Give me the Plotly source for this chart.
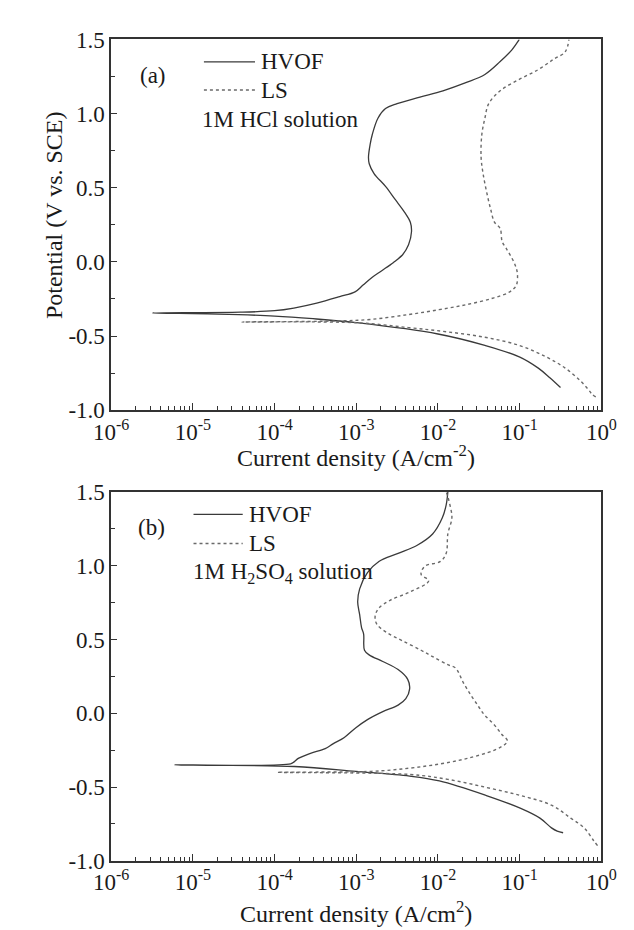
import plotly.graph_objects as go

# ---------------- data (current density A/cm^2, potential V vs SCE) ----------------
# Panel (a) 1M HCl
hcl_hvof_i = [0.316, 0.234, 0.169, 0.0989, 0.0375, 0.01, 1.0e-3, 2.95e-4, 1.0e-4, 2.0e-5,
              3.2e-6,
              3.81e-5, 1.0e-4, 1.72e-4, 3.28e-4, 6.27e-4, 9.64e-4, 1.20e-3, 1.57e-3, 2.05e-3,
              2.83e-3, 3.71e-3, 4.36e-3, 4.74e-3, 4.59e-3, 3.91e-3, 2.99e-3, 2.28e-3, 1.65e-3,
              1.44e-3, 1.41e-3, 1.48e-3, 1.57e-3, 1.84e-3, 2.28e-3, 3.16e-3, 6.01e-3, 0.0115,
              0.0219, 0.0375, 0.0577, 0.0798, 0.0989]
hcl_hvof_e = [-0.847, -0.781, -0.716, -0.640, -0.563, -0.486, -0.410, -0.383, -0.365, -0.352,
              -0.344,
              -0.339, -0.329, -0.311, -0.278, -0.234, -0.202, -0.158, -0.103, -0.059,
              -0.005, 0.050, 0.115, 0.203, 0.268, 0.334, 0.421, 0.509, 0.596,
              0.662, 0.706, 0.794, 0.859, 0.969, 1.034, 1.067, 1.111, 1.154,
              1.209, 1.264, 1.351, 1.428, 1.5]

hcl_ls_i = [0.853, 0.766, 0.687, 0.555, 0.361, 0.210, 0.0989, 0.0375, 0.0128, 4.36e-3, 1.0e-3,
            4.0e-5,
            5.05e-4, 1.48e-3, 4.36e-3, 0.0103, 0.0219, 0.0466, 0.0755, 0.0908, 0.0938, 0.0889,
            0.0798, 0.0679, 0.0610, 0.0577, 0.0491, 0.0441, 0.0396, 0.0356, 0.0337, 0.0344,
            0.0375, 0.0418, 0.0577, 0.0989, 0.169, 0.261, 0.361, 0.401]
hcl_ls_e = [-0.910, -0.891, -0.858, -0.803, -0.716, -0.640, -0.563, -0.508, -0.471, -0.443, -0.410,
            -0.405,
            -0.399, -0.388, -0.355, -0.322, -0.289, -0.245, -0.202, -0.158, -0.081, -0.027,
            0.028, 0.094, 0.137, 0.225, 0.268, 0.356, 0.465, 0.597, 0.706, 0.859,
            0.969, 1.067, 1.154, 1.231, 1.297, 1.367, 1.417, 1.5]

# Panel (b) 1M H2SO4
h2so4_hvof_i = [0.340, 0.288, 0.245, 0.177, 0.103, 0.0391, 0.0104, 4.50e-3, 9.89e-4, 1.75e-4,
                6.0e-6,
                1.57e-4, 1.75e-4, 1.95e-4, 2.70e-4, 4.17e-4, 5.18e-4, 7.14e-4, 9.89e-4, 1.37e-3,
                2.11e-3, 3.25e-3, 4.04e-3, 4.50e-3, 4.26e-3, 3.25e-3, 2.11e-3, 1.45e-3, 1.26e-3,
                1.23e-3, 1.16e-3, 1.10e-3, 1.04e-3, 1.10e-3, 1.37e-3, 1.89e-3, 3.25e-3, 5.57e-3,
                8.59e-3, 0.0113, 0.0126, 0.0132]
h2so4_hvof_e = [-0.810, -0.799, -0.777, -0.711, -0.645, -0.558, -0.459, -0.426, -0.394, -0.361,
                -0.350,
                -0.343, -0.328, -0.306, -0.273, -0.240, -0.208, -0.164, -0.098, -0.043,
                0.011, 0.055, 0.099, 0.165, 0.230, 0.296, 0.351, 0.394, 0.427,
                0.537, 0.581, 0.668, 0.756, 0.843, 0.953, 1.029, 1.084, 1.139,
                1.215, 1.325, 1.412, 1.5]

h2so4_ls_i = [0.897, 0.805, 0.615, 0.421, 0.245, 0.103, 0.0391, 0.0132, 4.50e-3,
              1.08e-4,
              1.52e-3, 4.50e-3, 0.0107, 0.0228, 0.0484, 0.0670, 0.0708, 0.0601, 0.0484, 0.0370,
              0.0315, 0.0254, 0.0204, 0.0164, 0.0132, 8.59e-3, 6.21e-3, 3.62e-3, 2.35e-3,
              1.79e-3, 1.70e-3, 1.89e-3, 2.62e-3, 4.50e-3, 7.71e-3, 6.21e-3, 6.92e-3, 0.0107,
              0.0126, 0.0132, 0.0148, 0.0140, 0.0132, 0.0126]
h2so4_ls_e = [-0.897, -0.864, -0.777, -0.711, -0.623, -0.558, -0.503, -0.448, -0.415,
              -0.400,
              -0.394, -0.372, -0.343, -0.306, -0.251, -0.208, -0.186, -0.142, -0.076, -0.011,
              0.044, 0.121, 0.208, 0.307, 0.329, 0.384, 0.427, 0.493, 0.548,
              0.602, 0.657, 0.712, 0.767, 0.821, 0.898, 0.942, 0.997, 1.029,
              1.084, 1.215, 1.325, 1.412, 1.467, 1.5]

series_names = ["HVOF", "LS"]
x_tickvals = [1e-6, 1e-5, 1e-4, 1e-3, 1e-2, 1e-1, 1e0]
x_ticktext = ["10<sup>-6</sup>", "10<sup>-5</sup>", "10<sup>-4</sup>", "10<sup>-3</sup>",
              "10<sup>-2</sup>", "10<sup>-1</sup>", "10<sup>0</sup>"]
y_tickvals = [-1.0, -0.5, 0.0, 0.5, 1.0, 1.5]
y_ticktext = ["-1.0", "-0.5", "0.0", "0.5", "1.0", "1.5"]

# ---------------- figure ----------------
W, H = 634, 930
FONT = "Liberation Serif"
TXT = "#1a1a1a"

def px_x(p):
    return p / W

def px_y(p):
    return 1 - p / H

fig = go.Figure()
solid = dict(color="#3a3a3a", width=1.3)
dotted = dict(color="#6a6a6a", width=1.4, dash="dot")

fig.add_trace(go.Scatter(x=hcl_hvof_i, y=hcl_hvof_e, mode="lines", line=solid,
                         line_shape="spline", name=series_names[0], xaxis="x", yaxis="y"))
fig.add_trace(go.Scatter(x=hcl_ls_i, y=hcl_ls_e, mode="lines", line=dotted,
                         line_shape="spline", name=series_names[1], xaxis="x", yaxis="y"))
fig.add_trace(go.Scatter(x=h2so4_hvof_i, y=h2so4_hvof_e, mode="lines", line=solid,
                         line_shape="spline", name=series_names[0], xaxis="x2", yaxis="y2"))
fig.add_trace(go.Scatter(x=h2so4_ls_i, y=h2so4_ls_e, mode="lines", line=dotted,
                         line_shape="spline", name=series_names[1], xaxis="x2", yaxis="y2"))

minor_x = [m * 10 ** e for e in range(-6, 0) for m in range(2, 10)]
minor_y = [-0.75, -0.25, 0.25, 0.75, 1.25]

xdom = [px_x(90), px_x(608)]
axis_common = dict(showline=True, linecolor="#333", linewidth=1.5, mirror=True,
                   ticks="inside", tickcolor="#333", tickwidth=1.3,
                   showgrid=False, zeroline=False,
                   tickfont=dict(family=FONT, size=23, color=TXT))

xa = dict(axis_common, type="log", range=[-6, 0], tickvals=x_tickvals, ticktext=x_ticktext,
          ticklen=7, minor=dict(tickvals=minor_x, ticks="inside", ticklen=4,
                                tickcolor="#333", tickwidth=1.1))
ya = dict(axis_common, range=[-1.0, 1.5], tickvals=y_tickvals, ticktext=y_ticktext,
          ticklen=6, minor=dict(tickvals=minor_y, ticks="inside", ticklen=4,
                                tickcolor="#333", tickwidth=1.1))

fig.update_layout(
    width=W, height=H, margin=dict(l=0, r=0, t=0, b=0),
    paper_bgcolor="white", plot_bgcolor="white", showlegend=False,
    xaxis=dict(xa, domain=xdom, anchor="y"),
    yaxis=dict(ya, domain=[px_y(401), px_y(20)], anchor="x"),
    xaxis2=dict(xa, domain=xdom, anchor="y2"),
    yaxis2=dict(ya, domain=[px_y(864), px_y(485)], anchor="x2"),
)

annotations = []
shapes = []

def text(x, y, s, size=23, xanchor="left", textangle=0):
    annotations.append(dict(x=px_x(x), y=px_y(y), xref="paper", yref="paper", text=s,
                            showarrow=False, xanchor=xanchor, yanchor="middle",
                            textangle=textangle,
                            font=dict(family=FONT, size=size, color=TXT)))

def seg(x0, x1, y, line):
    shapes.append(dict(type="line", xref="paper", yref="paper",
                       x0=px_x(x0), x1=px_x(x1), y0=px_y(y), y1=px_y(y), line=line))

# axis titles
text(349, 448, "Current density (A/cm<sup>-2</sup>)", size=24, xanchor="center")
text(349, 917, "Current density (A/cm<sup>2</sup>)", size=24, xanchor="center")
text(29, 200, "Potential (V vs. SCE)", size=24, xanchor="center", textangle=-90)

# panel (a) legend
text(134, 57, "(a)", xanchor="center")
seg(188, 242, 43, solid)
text(246, 43, series_names[0])
seg(188, 242, 72, dotted)
text(246, 72, series_names[1])
text(184, 102, "1M HCl solution")

# panel (b) legend
text(133, 522, "(b)", xanchor="center")
seg(177, 229, 508, solid)
text(234, 508, series_names[0])
seg(177, 229, 538, dotted)
text(234, 538, series_names[1])
text(174, 568, "1M H<sub>2</sub>SO<sub>4</sub> solution")

fig.update_layout(annotations=annotations, shapes=shapes)
fig.write_html("out.html")
